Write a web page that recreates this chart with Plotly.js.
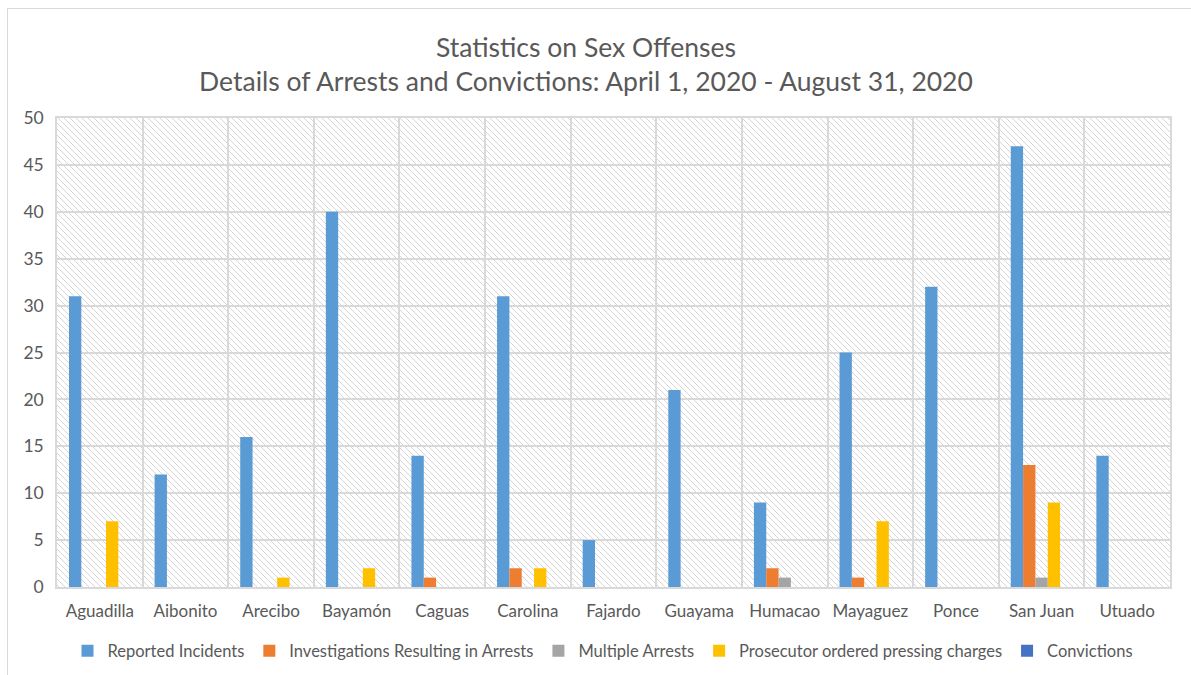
<!DOCTYPE html>
<html>
<head>
<meta charset="utf-8">
<script src="https://cdn.plot.ly/plotly-3.0.1.min.js"></script>
<style>
  html, body { margin: 0; padding: 0; background: #ffffff; }
  #wrap { position: relative; width: 1191px; height: 675px; overflow: hidden; }
  #frame { position: absolute; left: 7px; top: 8px; width: 1200px; height: 700px; border: 1.5px solid #d9d9d9; box-sizing: border-box; }
  #chart { position: absolute; left: 0; top: 0; width: 1191px; height: 675px; }
</style>
</head>
<body>
<div id="wrap">
  <div id="frame"></div>
  <div id="chart"></div>
</div>
<script>
const categories = ["Aguadilla", "Aibonito", "Arecibo", "Bayamón", "Caguas", "Carolina", "Fajardo", "Guayama", "Humacao", "Mayaguez", "Ponce", "San Juan", "Utuado"];
const reportedIncidents = [31, 12, 16, 40, 14, 31, 5, 21, 9, 25, 32, 47, 14];
const investigationsArrests = [0, 0, 0, 0, 1, 2, 0, 0, 2, 1, 0, 13, 0];
const multipleArrests = [0, 0, 0, 0, 0, 0, 0, 0, 1, 0, 0, 1, 0];
const prosecutorCharges = [7, 0, 1, 2, 0, 2, 0, 0, 0, 7, 0, 9, 0];
const convictions = [0, 0, 0, 0, 0, 0, 0, 0, 0, 0, 0, 0, 0];
const seriesNames = ["Reported Incidents", "Investigations Resulting in Arrests", "Multiple Arrests", "Prosecutor ordered pressing charges", "Convictions"];
const yTicks = [0, 5, 10, 15, 20, 25, 30, 35, 40, 45, 50];

const colors = ["#5B9BD5", "#ED7D31", "#A5A5A5", "#FFC000", "#4472C4"];
const seriesValues = [reportedIncidents, investigationsArrests, multipleArrests, prosecutorCharges, convictions];

const FONT = "Lato, 'Open Sans', sans-serif";

const traces = seriesValues.map((vals, i) => ({
  type: "bar",
  name: seriesNames[i],
  x: categories,
  y: vals,
  marker: { color: colors[i], line: { width: 0 } },
  hoverinfo: "x+y+name"
}));

const layout = {
  width: 1191,
  height: 675,
  paper_bgcolor: "rgba(0,0,0,0)",
  plot_bgcolor: "#ffffff",
  margin: { l: 57, r: 21, t: 118, b: 88, autoexpand: false },
  barmode: "group",
  bargap: 0.28,
  bargroupgap: 0,
  font: { family: FONT, color: "#595959", size: 17 },
  title: {
    text: "Statistics on Sex Offenses<br>Details of Arrests and Convictions: April 1, 2020 - August 31, 2020",
    font: { family: FONT, size: 26.5, color: "#595959" },
    x: 586 / 1191, xanchor: "center", xref: "container",
    y: 1 - 57 / 675, yanchor: "middle", yref: "container"
  },
  xaxis: {
    type: "category",
    tickson: "boundaries",
    showgrid: true,
    gridcolor: "#d9d9d9",
    gridwidth: 1.5,
    showline: true,
    linecolor: "#d9d9d9",
    linewidth: 1.5,
    mirror: true,
    ticks: "",
    tickangle: 0,
    automargin: false,
    ticklabelstandoff: 8,
    tickfont: { family: FONT, size: 17, color: "#595959" },
    fixedrange: true
  },
  yaxis: {
    range: [0, 50],
    tickvals: yTicks,
    ticktext: yTicks.map(String),
    showgrid: true,
    gridcolor: "#d9d9d9",
    gridwidth: 1.5,
    zeroline: false,
    showline: true,
    linecolor: "#d9d9d9",
    linewidth: 1.5,
    mirror: true,
    ticks: "",
    automargin: false,
    ticklabelstandoff: 8,
    tickfont: { family: FONT, size: 17.5, color: "#595959" },
    fixedrange: true
  },
  showlegend: true,
  legend: {
    orientation: "h",
    xref: "container",
    yref: "container",
    x: 603 / 1191,
    xanchor: "center",
    y: 1 - 651 / 675,
    yanchor: "middle",
    font: { family: FONT, size: 16.5, color: "#595959" },
    itemwidth: 30,
    tracegroupgap: 0,
    bgcolor: "rgba(0,0,0,0)"
  }
};

Plotly.newPlot("chart", traces, layout, { displayModeBar: false, staticPlot: false }).then(function (gd) {
  const svg = gd.querySelector("svg.main-svg");
  const NS = "http://www.w3.org/2000/svg";
  let defs = svg.querySelector("defs");
  if (!defs) { defs = document.createElementNS(NS, "defs"); svg.insertBefore(defs, svg.firstChild); }
  const pat = document.createElementNS(NS, "pattern");
  pat.setAttribute("id", "hatchbg");
  pat.setAttribute("patternUnits", "userSpaceOnUse");
  pat.setAttribute("width", "6");
  pat.setAttribute("height", "6");
  const bgr = document.createElementNS(NS, "rect");
  bgr.setAttribute("width", "6"); bgr.setAttribute("height", "6"); bgr.setAttribute("fill", "#ffffff");
  pat.appendChild(bgr);
  const segs = [[0, 0, 6, 6], [-3, 3, 3, 9], [3, -3, 9, 3]];
  segs.forEach(s => {
    const l = document.createElementNS(NS, "line");
    l.setAttribute("x1", s[0]); l.setAttribute("y1", s[1]);
    l.setAttribute("x2", s[2]); l.setAttribute("y2", s[3]);
    l.setAttribute("stroke", "#d6d6d6");
    l.setAttribute("stroke-width", "1");
    pat.appendChild(l);
  });
  defs.appendChild(pat);
  const bg = svg.querySelector(".bglayer rect.bg");
  if (bg) bg.style.fill = "url(#hatchbg)";
});
</script>
</body>
</html>
